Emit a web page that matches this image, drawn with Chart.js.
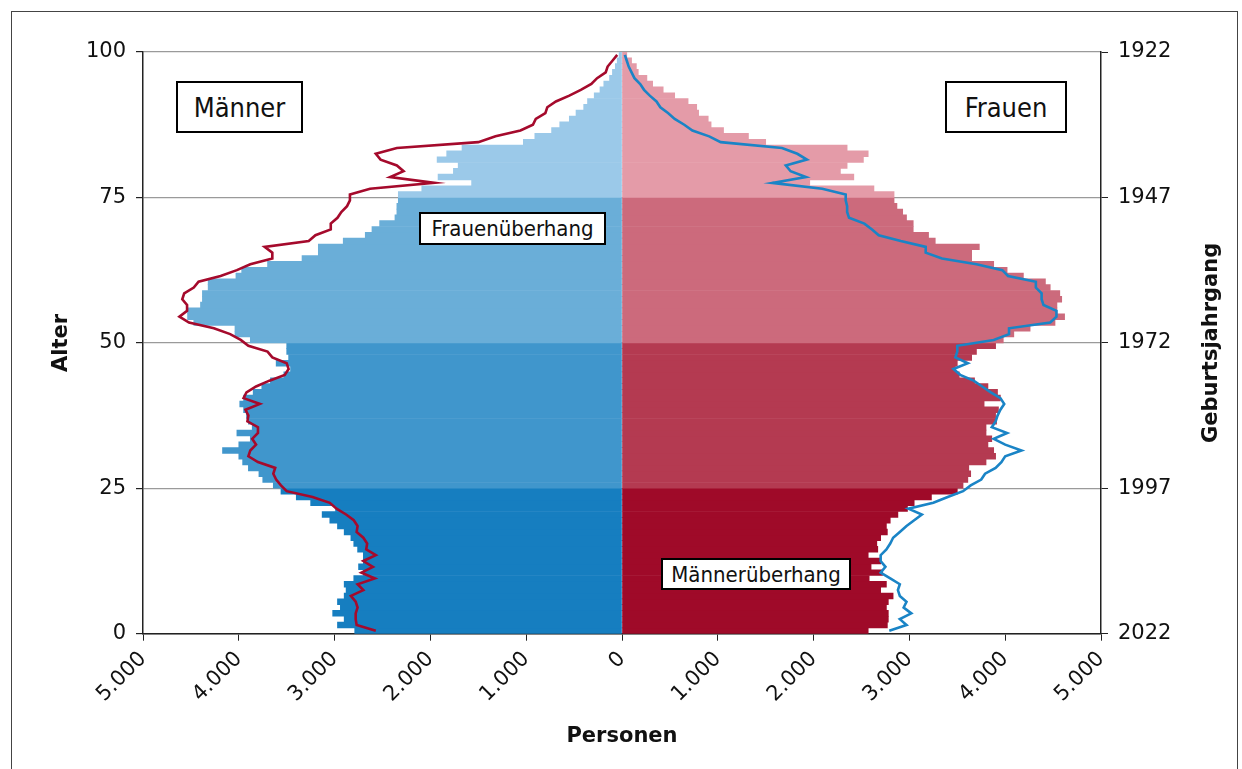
<!DOCTYPE html>
<html lang="de">
<head>
<meta charset="utf-8">
<script src="https://cdn.jsdelivr.net/npm/chart.js@4.4.0/dist/chart.umd.min.js"></script>
<style>
  html, body { margin: 0; padding: 0; background: #fff; }
  #wrap { position: relative; width: 1242px; height: 769px; overflow: hidden; }
  #frame { position: absolute; left: 11px; top: 11px; width: 1227px; height: 800px; border: 1px solid #444; box-sizing: border-box; pointer-events: none; }
  .box { position: absolute; background: #fff; border: 2px solid #000; box-sizing: border-box;
         font-family: "DejaVu Sans Condensed", "DejaVu Sans", sans-serif; color: #111;
         display: flex; align-items: center; justify-content: center; }
</style>
</head>
<body>
<div id="wrap">
  <canvas id="pyramid" width="1242" height="769"></canvas>
  <div id="frame"></div>
  <div class="box" style="left:176px;top:81px;width:127px;height:52px;font-size:27px">Männer</div>
  <div class="box" style="left:945px;top:81px;width:122px;height:52px;font-size:27px">Frauen</div>
  <div class="box" style="left:419px;top:212px;width:187px;height:33px;font-size:22px">Frauenüberhang</div>
  <div class="box" style="left:661px;top:558px;width:190px;height:32px;font-size:22px">Männerüberhang</div>
</div>
<script>
// Personen je Altersjahr 0..99
const men = [
  2790, 2970, 2900, 3020, 2940, 2970, 2900, 2880, 2900, 2800,
  2700, 2750, 2700, 2700, 2760, 2800, 2830, 2900, 2970, 3050,
  3130, 2990, 3250, 3400, 3560, 3640, 3750, 3790, 3900, 3960,
  4000, 4170, 4000, 3880, 4020, 3860, 3900, 3920, 3950, 3990,
  3950, 3850, 3760, 3670, 3530, 3460, 3610, 3480, 3500, 3500,
  3880, 4040, 4040, 4470, 4535, 4535, 4400, 4380, 4380, 4320,
  4320, 4030, 3970, 3700, 3340, 3170, 3170, 2910, 2680, 2610,
  2530, 2370, 2350, 2350, 2335, 2335, 2090, 1570, 1920, 1760,
  1710, 1930, 1830, 1670, 1030, 910, 735, 650, 550, 480,
  400, 360, 290, 230, 190, 130, 100, 70, 50, 30
];
const women = [
  2570, 2770, 2780, 2780, 2760, 2780, 2830, 2700, 2760, 2580,
  2720, 2600, 2700, 2570, 2670, 2660, 2700, 2770, 2760, 2800,
  2880, 2980, 3050, 3230, 3500, 3560, 3610, 3640, 3620, 3800,
  3900, 3880, 3820, 3860, 3800, 3800, 3910, 3900, 3930, 3780,
  3950, 3920, 3820, 3680, 3520, 3480, 3500, 3650, 3700, 3900,
  3980, 4090, 4260, 4520, 4620, 4540, 4540, 4590, 4570, 4470,
  4420, 4190, 4020, 3880, 3650, 3650, 3730, 3270, 3200, 3040,
  3040, 2970, 2930, 2870, 2840, 2840, 2630, 1960, 2420, 2280,
  2350, 2520, 2570, 2350, 1500, 1320, 1060, 930, 900, 800,
  780, 690, 550, 430, 320, 260, 170, 150, 100, 50
];
const stichjahr = 2022;

// Farben je 25-Jahres-Band
const menColors = ["#167ec0", "#4096cc", "#6aaed8", "#9bc9e9"];
const womenColors = ["#9f0a29", "#b43a51", "#cc6a7c", "#e49ba8"];

const fmt = (v) => String(Math.abs(v)).replace(/\B(?=(\d{3})+(?!\d))/g, ".");
const band = (i) => Math.min(3, Math.floor(i / 25));

Chart.defaults.font.family = "'DejaVu Sans', sans-serif";
Chart.defaults.color = "#111";

//right axis title reads bottom-to-top
const rightTitle = {
  id: "rightTitle",
  afterDraw(chart) {
    const { ctx, chartArea } = chart;
    ctx.save();
    ctx.font = "bold 21px 'DejaVu Sans'";
    ctx.fillStyle = "#111";
    ctx.textAlign = "center";
    ctx.textBaseline = "middle";
    ctx.translate(chartArea.right + 111, (chartArea.top + chartArea.bottom) / 2);
    ctx.rotate(-Math.PI / 2);
    ctx.fillText("Geburtsjahrgang", 0, 0);
    ctx.restore();
  },
};

new Chart(document.getElementById("pyramid"), {
  type: "bar",
  plugins: [rightTitle],
  data: {
    datasets: [
      {
        label: "Frauen (gespiegelt)",
        type: "line",
        indexAxis: "y",
        data: women.map((v, i) => ({ x: -v, y: i + 0.5 })),
        borderColor: "#a50a2c",
        borderWidth: 2.6,
        pointRadius: 0,
        tension: 0,
        fill: false,
        order: 0,
      },
      {
        label: "Männer (gespiegelt)",
        type: "line",
        indexAxis: "y",
        data: men.map((v, i) => ({ x: v, y: i + 0.5 })),
        borderColor: "#1a84c6",
        borderWidth: 2.6,
        pointRadius: 0,
        tension: 0,
        fill: false,
        order: 0,
      },
      {
        label: "Männer",
        indexAxis: "y",
        data: men.map((v, i) => ({ x: -v, y: i + 0.5 })),
        backgroundColor: (c) => menColors[band(c.dataIndex)],
        grouped: false,
        barPercentage: 1,
        categoryPercentage: 1,
        borderWidth: 0,
        order: 1,
      },
      {
        label: "Frauen",
        indexAxis: "y",
        data: women.map((v, i) => ({ x: v, y: i + 0.5 })),
        backgroundColor: (c) => womenColors[band(c.dataIndex)],
        grouped: false,
        barPercentage: 1,
        categoryPercentage: 1,
        borderWidth: 0,
        order: 1,
      },
    ],
  },
  options: {
    responsive: false,
    animation: false,
    indexAxis: "y",
    layout: { padding: { top: 52, left: 0, right: 0, bottom: 0 } },
    plugins: {
      legend: { display: false },
      tooltip: { enabled: false },
    },
    scales: {
      x: {
        type: "linear",
        min: -5000,
        max: 5000,
        afterFit: (s) => { s.height = 135.3; },
        border: { display: true, color: "#222", width: 1.5 },
        grid: { drawOnChartArea: false, tickColor: "#222", tickLength: 7 },
        ticks: {
          stepSize: 1000,
          minRotation: 45,
          maxRotation: 45,
          padding: 6,
          font: { size: 21 },
          callback: (v) => fmt(v),
        },
        title: {
          display: true,
          text: "Personen",
          font: { size: 21, weight: "bold" },
          padding: { top: 0, bottom: 20 },
        },
      },
      y: {
        type: "linear",
        position: "left",
        min: 0,
        max: 100,
        offset: false,
        afterFit: (s) => { s.width = 143; },
        border: { display: true, color: "#222", width: 1.5 },
        grid: { offset: false, color: "#9a9a9a", lineWidth: 1.2, tickColor: "#222", tickLength: 7 },
        ticks: { stepSize: 25, padding: 10, font: { size: 21 } },
        title: {
          display: true,
          text: "Alter",
          font: { size: 21, weight: "bold" },
          padding: { top: 49, bottom: 0 },
        },
      },
      y2: {
        type: "linear",
        position: "right",
        display: true,
        min: 0,
        max: 100,
        offset: false,
        afterFit: (s) => { s.width = 141; },
        border: { display: true, color: "#222", width: 1.5 },
        grid: { offset: false, drawOnChartArea: false, tickColor: "#222", tickLength: 7 },
        ticks: { stepSize: 25, padding: 10, font: { size: 21 }, callback: (v) => stichjahr - v },
      },
    },
  },
});
</script>
</body>
</html>
